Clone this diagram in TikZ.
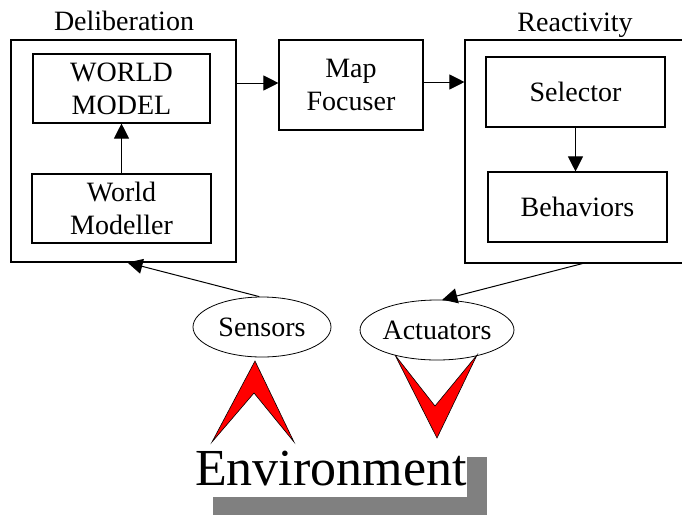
\documentclass[tikz,border=0pt]{standalone}
\usepackage{fontspec}
\setmainfont{Liberation Serif}
\usetikzlibrary{arrows.meta,shapes.geometric,calc}
\begin{document}
\begin{tikzpicture}[x=1pt,y=-1pt,
  txt/.style={font=\fontsize{28}{33}\selectfont},
  frame/.style={draw,line width=1.1pt,inner sep=0pt},
  box/.style={frame,align=center,txt},
  oval/.style={draw,ellipse,line width=0.8pt,inner sep=0pt,
    minimum width=138pt,minimum height=60pt,txt},
  arr/.style={line width=1pt,-{Triangle[length=15pt,width=15pt]}},
  chevron/.style={fill=red,draw=black,line width=0.6pt,line join=miter}]
\useasboundingbox (0,0) rectangle (682,515);
\clip (0,0) rectangle (682,515);

% deliberative layer
\node[frame,minimum width=225pt,minimum height=222pt] (delib) at (123.5,151) {};
\node[txt,anchor=base] (delibl) at (124,30) {Deliberation};
\node[box,minimum width=177pt,minimum height=69pt] (wmodel) at (121.5,88.5) {WORLD\\MODEL};
\node[box,minimum width=179pt,minimum height=69pt] (wmodeller) at (121.5,208.5) {World\\Modeller};

% map focuser
\node[box,minimum width=144pt,minimum height=90pt] (mapf) at (351,85) {Map\\Focuser};

% reactive layer (runs past the right edge)
\node[frame,minimum width=235pt,minimum height=223pt] (react) at (582.5,151.5) {};
\node[txt,anchor=base] (reactl) at (575,31) {Reactivity};
\node[box,minimum width=179pt,minimum height=70pt] (sel) at (575.5,92) {Selector};
\node[box,minimum width=179pt,minimum height=70pt] (beh) at (577.5,207) {Behaviors};

% sensing and acting
\node[oval] (sens) at (262,327) {Sensors};
\node[oval] (act) at (437,330) {Actuators};

% connectors
\draw[arr] (wmodeller.north) -- (wmodel.south);
\draw[arr] (delib.east |- 0,83) -- (mapf.west |- 0,83);
\draw[arr] (mapf.east |- 0,82) -- (react.west |- 0,82);
\draw[arr] (sel.south) -- (sel.south |- beh.north);
\draw[arr] (sens.95) -- ($(delib.south)+(4,0)$);
\draw[arr] (react.south) -- (act.80);

% red chevrons
\path[chevron] (212,442) -- (255,361) -- (294,442) -- (254,393) -- cycle;
\path[chevron] (395,355) -- (435,406) -- (477,355) -- (437,438) -- cycle;

% environment with its grey shadow
\fill[gray] (467,457) rectangle (487,515);
\fill[gray] (213,497) rectangle (487,515);
\node[font=\fontsize{52}{60}\selectfont,anchor=base west,inner sep=0pt] (env) at (195,485) {Environment};
\end{tikzpicture}
\end{document}
